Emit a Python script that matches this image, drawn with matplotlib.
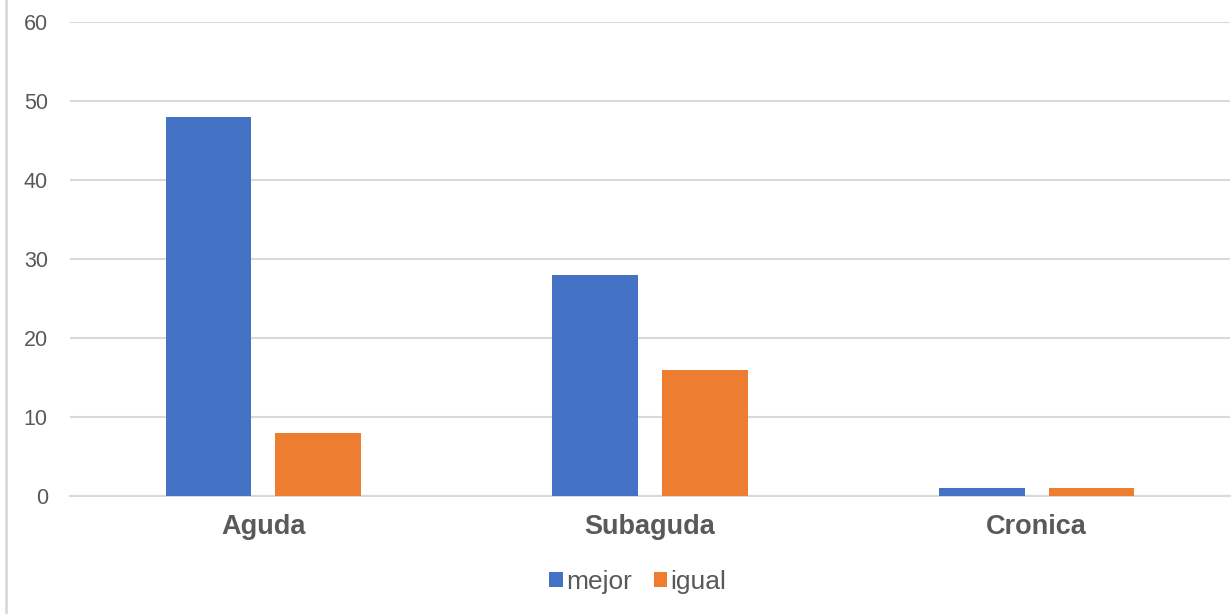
import matplotlib
matplotlib.use("Agg")
import matplotlib.pyplot as plt
from matplotlib.lines import Line2D
import numpy as np

categories = ["Aguda", "Subaguda", "Cronica"]
mejor = [48, 28, 1]
igual = [8, 16, 1]

BLUE = "#4472C4"
ORANGE = "#ED7D31"
GRID = "#D9D9D9"
TEXT = "#595959"

plt.rcParams["font.family"] = ["Liberation Sans", "DejaVu Sans"]

fig = plt.figure(figsize=(12.32, 6.14), dpi=100)
ax = fig.add_axes([70 / 1232, 1 - 496 / 614, 1160 / 1232, 474 / 614])

x = np.arange(len(categories))
width = 0.222
offset = 0.142
ax.bar(x - offset, mejor, width, color=BLUE, label="mejor", zorder=3)
ax.bar(x + offset, igual, width, color=ORANGE, label="igual", zorder=3)

ax.set_xlim(-0.5, len(categories) - 0.5)
ax.set_ylim(0, 60)
ax.set_yticks(range(0, 61, 10))
ax.yaxis.grid(True, color=GRID, linewidth=1.5, zorder=0)
ax.set_axisbelow(True)

for side in ["top", "right", "left"]:
    ax.spines[side].set_visible(False)
ax.spines["bottom"].set_color(GRID)
ax.spines["bottom"].set_linewidth(1.5)

ax.set_xticks(x)
ax.set_xticklabels(categories, fontsize=19.5, fontweight="bold", color=TEXT)
ax.tick_params(axis="x", length=0, pad=13)
ax.tick_params(axis="y", length=0, pad=16, labelsize=15.5, labelcolor=TEXT)

fig.legend(
    loc="center",
    bbox_to_anchor=(638 / 1232, 1 - 582 / 614),
    ncol=2,
    frameon=False,
    fontsize=19,
    labelcolor=TEXT,
    handlelength=0.5,
    handleheight=0.5,
    handletextpad=0.15,
    columnspacing=0.8,
)

# thin border on the left edge of the chart area
fig.add_artist(Line2D([6 / 1232, 6 / 1232], [0, 1], color=GRID, linewidth=2,
                      transform=fig.transFigure))

fig.savefig("out.png", dpi=100, facecolor="white")
